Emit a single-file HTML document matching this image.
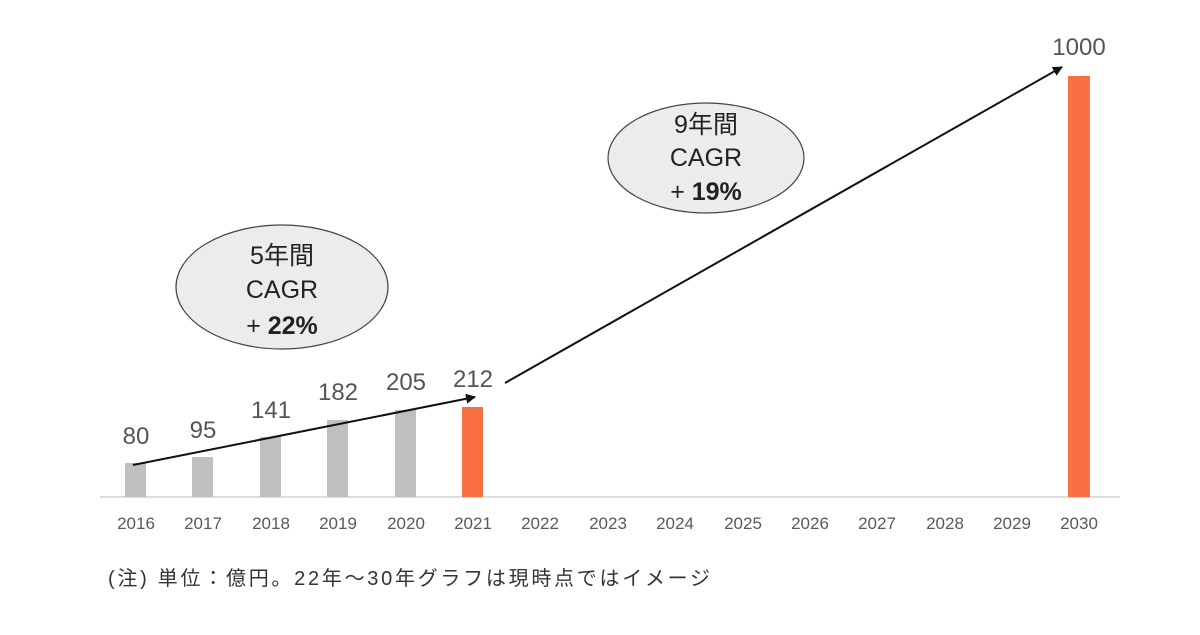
<!DOCTYPE html>
<html><head><meta charset="utf-8"><style>
body{margin:0;background:#fff;}
svg text{font-family:"Liberation Sans","Noto Sans CJK JP",sans-serif;}
</style></head><body>
<svg width="1200" height="630" viewBox="0 0 1200 630" xmlns="http://www.w3.org/2000/svg">
<defs><marker id="ah" markerWidth="10" markerHeight="10" refX="9" refY="5" orient="auto" markerUnits="userSpaceOnUse"><path d="M0,0 L10,5 L0,10 z" fill="#111"/></marker></defs>
<line x1="100" y1="497" x2="1120" y2="497" stroke="#ddd" stroke-width="2"/>
<g fill="#bfbfbf">
<rect x="125" y="463" width="21" height="34"/>
<rect x="192" y="457" width="21" height="40"/>
<rect x="260" y="437" width="21" height="60"/>
<rect x="327" y="420" width="21" height="77"/>
<rect x="395" y="410" width="21" height="87"/>
</g>
<rect x="462" y="407" width="21" height="90" fill="#f87043"/>
<rect x="1068" y="76" width="22" height="421" fill="#f87043"/>
<g font-size="24" fill="#555" text-anchor="middle">
<text x="136" y="444">80</text>
<text x="203" y="438">95</text>
<text x="271" y="418">141</text>
<text x="338" y="400">182</text>
<text x="406" y="390">205</text>
<text x="473" y="387">212</text>
<text x="1079" y="55">1000</text>
</g>
<g font-size="17" fill="#595959" text-anchor="middle">
<text x="136" y="529">2016</text><text x="203" y="529">2017</text><text x="271" y="529">2018</text>
<text x="338" y="529">2019</text><text x="406" y="529">2020</text><text x="473" y="529">2021</text>
<text x="540" y="529">2022</text><text x="608" y="529">2023</text><text x="675" y="529">2024</text>
<text x="743" y="529">2025</text><text x="810" y="529">2026</text><text x="877" y="529">2027</text>
<text x="945" y="529">2028</text><text x="1012" y="529">2029</text><text x="1079" y="529">2030</text>
</g>
<line x1="133" y1="465" x2="475" y2="397" stroke="#111" stroke-width="2" marker-end="url(#ah)"/>
<line x1="505" y1="383" x2="1062" y2="67" stroke="#111" stroke-width="2" marker-end="url(#ah)"/>
<ellipse cx="282" cy="287" rx="106" ry="62" fill="#ececec" stroke="#444" stroke-width="1.2"/>
<g font-size="25" fill="#222" text-anchor="middle">
<text x="282" y="264">5年間</text>
<text x="282" y="298">CAGR</text>
<text x="282" y="334">+ <tspan font-weight="bold">22%</tspan></text>
</g>
<ellipse cx="706" cy="158" rx="98" ry="55" fill="#ececec" stroke="#444" stroke-width="1.2"/>
<g font-size="25" fill="#222" text-anchor="middle">
<text x="706" y="133">9年間</text>
<text x="706" y="166">CAGR</text>
<text x="706" y="200">+ <tspan font-weight="bold">19%</tspan></text>
</g>
<text x="108" y="585" font-size="20" fill="#333" textLength="602" lengthAdjust="spacing">(注) 単位：億円。22年～30年グラフは現時点ではイメージ</text>
</svg>
</body></html>
